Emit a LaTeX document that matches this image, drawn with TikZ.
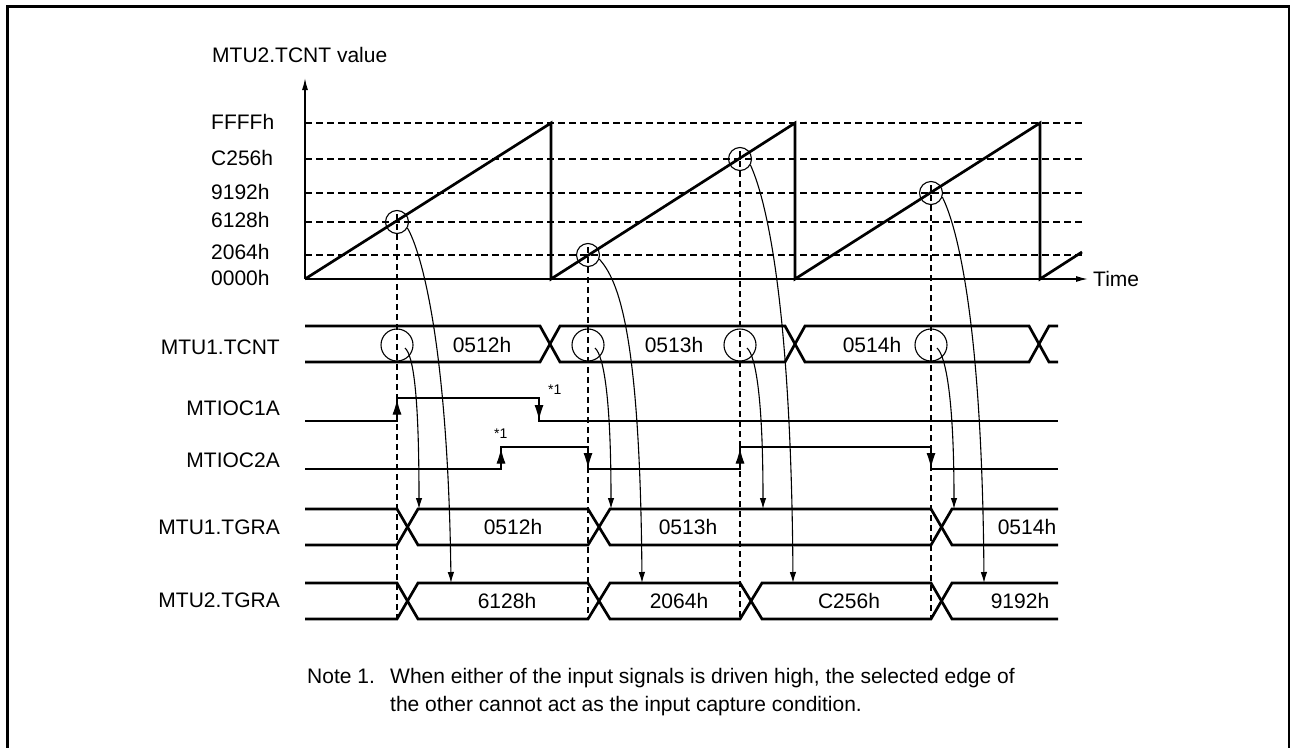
\documentclass[tikz,border=0pt]{standalone}
\usepackage{fontspec}
\setmainfont{Liberation Sans}
\usetikzlibrary{arrows.meta}
\begin{document}
\begin{tikzpicture}[x=1pt,y=-1pt,
  txt/.style={inner sep=0pt, font=\fontsize{21}{25}\selectfont},
  smalltxt/.style={inner sep=0pt, font=\fontsize{14}{16}\selectfont},
  sig/.style={line width=2.7pt, line join=miter},
  axisline/.style={line width=1.4pt, -{Latex[length=12pt,width=6pt]}},
  gridline/.style={line width=1.2pt, dash pattern=on 7pt off 4pt},
  vdash/.style={line width=1.1pt, dash pattern=on 6pt off 4pt},
  ramp/.style={line width=2.7pt, line join=miter},
  capcurve/.style={line width=1.1pt, -{Latex[length=11pt,width=6.5pt]}},
  edgearr/.style={line width=1pt, -{Latex[length=15pt,width=9pt]}},
  bigc/.style={circle, draw, line width=1.1pt, minimum size=32pt, inner sep=0pt},
  smallc/.style={circle, draw, line width=1.1pt, minimum size=23pt, inner sep=0pt},
]
\useasboundingbox (0,0) rectangle (1290,747);
% frame
\draw[line width=3pt] (7.5,760) -- (7.5,6.5) -- (1289.5,6.5) -- (1289.5,760);

% ---------- counter graph ----------
\node[txt, anchor=base west] (ylab) at (212,62.5) {MTU2.TCNT value};
\node[txt, anchor=base west] (lFFFF) at (211,129.5) {FFFFh};
\node[txt, anchor=base west] (lC256) at (211,165.5) {C256h};
\node[txt, anchor=base west] (l9192) at (211,199.5) {9192h};
\node[txt, anchor=base west] (l6128) at (211,227.5) {6128h};
\node[txt, anchor=base west] (l2064) at (211,259.5) {2064h};
\node[txt, anchor=base west] (l0000) at (211,285.5) {0000h};
\node[txt, anchor=base west] (tlab) at (1093,286.5) {Time};

\foreach \yy in {123,159,193,222,255}
  \draw[gridline] (305,\yy) -- (1083,\yy);

\coordinate (O) at (305,279);
\coordinate (ytop) at (305,78);
\coordinate (xend) at (1088,279);
\draw[axisline] (O) -- (ytop);
\draw[axisline] (O) -- (xend);

\draw[ramp] (305,279) -- (551,123) -- (551,279) -- (795,123) -- (795,279)
  -- (1040,123) -- (1040,279) -- (1082,252);

% capture points on ramp
\node[smallc] (r1) at (397,222) {};
\node[smallc] (r2) at (588,255) {};
\node[smallc] (r3) at (740,159) {};
\node[smallc] (r4) at (931,193) {};

% dashed verticals
\draw[vdash] (397,214) -- (397,619);
\draw[vdash] (588,247) -- (588,619);
\draw[vdash] (740,151) -- (740,619);
\draw[vdash] (931,185) -- (931,619);

% ---------- timing rows ----------
\node[txt, anchor=base east] (nTCNT) at (280,354.5) {MTU1.TCNT};
\node[txt, anchor=base east] (nIOC1) at (280,415.5) {MTIOC1A};
\node[txt, anchor=base east] (nIOC2) at (280,467.5) {MTIOC2A};
\node[txt, anchor=base east] (nTG1) at (280,534.5) {MTU1.TGRA};
\node[txt, anchor=base east] (nTG2) at (280,607.5) {MTU2.TGRA};

% MTU1.TCNT bus
\draw[sig] (305,326) -- (540,326) -- (560,362) -- (785,362) -- (805,326) -- (1029,326) -- (1049,362) -- (1058,362);
\draw[sig] (305,362) -- (540,362) -- (560,326) -- (785,326) -- (805,362) -- (1029,362) -- (1049,326) -- (1058,326);
\node[txt, anchor=base] (v0512a) at (482,352.5) {0512h};
\node[txt, anchor=base] (v0513a) at (674,352.5) {0513h};
\node[txt, anchor=base] (v0514a) at (872,352.5) {0514h};

\node[bigc] (t1) at (397,345) {};
\node[bigc] (t2) at (588,345) {};
\node[bigc] (t3) at (740,345) {};
\node[bigc] (t4) at (931,345) {};

% MTIOC1A
\draw[sig] (305,421) -- (397,421) -- (397,398) -- (539,398) -- (539,421) -- (1058,421);
\draw[edgearr] (397,421) -- (397,399.5);
\draw[edgearr] (539,398) -- (539,420);
\node[smalltxt, anchor=base west] (note1a) at (548,394) {*1};

% MTIOC2A
\draw[sig] (305,469) -- (501,469) -- (501,447) -- (588,447) -- (588,469) -- (740,469)
  -- (740,447) -- (931,447) -- (931,469) -- (1058,469);
\draw[edgearr] (501,469) -- (501,448.5);
\draw[edgearr] (588,447) -- (588,468);
\draw[edgearr] (740,469) -- (740,448.5);
\draw[edgearr] (931,447) -- (931,468);
\node[smalltxt, anchor=base west] (note1b) at (494,438) {*1};

% MTU1.TGRA bus
\draw[sig] (305,509) -- (397,509) -- (418,545) -- (588,545) -- (610,509) -- (931,509) -- (952,545) -- (1058,545);
\draw[sig] (305,545) -- (397,545) -- (418,509) -- (588,509) -- (610,545) -- (931,545) -- (952,509) -- (1058,509);
\node[txt, anchor=base] (v0512b) at (513,534.5) {0512h};
\node[txt, anchor=base] (v0513b) at (688,534.5) {0513h};
\node[txt, anchor=base] (v0514b) at (1027,534.5) {0514h};

% MTU2.TGRA bus
\draw[sig] (305,583) -- (397,583) -- (418,619) -- (588,619) -- (610,583) -- (740,583) -- (762,619) -- (931,619) -- (952,583) -- (1058,583);
\draw[sig] (305,619) -- (397,619) -- (418,583) -- (588,583) -- (610,619) -- (740,619) -- (762,583) -- (931,583) -- (952,619) -- (1058,619);
\node[txt, anchor=base] (v6128) at (507,608.5) {6128h};
\node[txt, anchor=base] (v2064) at (679,608.5) {2064h};
\node[txt, anchor=base] (vC256) at (849,608.5) {C256h};
\node[txt, anchor=base] (v9192) at (1020,608.5) {9192h};

% capture arrows: counter value -> MTU2.TGRA
\coordinate (e1) at (451,583);
\coordinate (e2) at (642,583);
\coordinate (e3) at (793,583);
\coordinate (e4) at (984,583);
\draw[capcurve] (r1.-30) .. controls (422,253) and (448,348) .. (e1);
\draw[capcurve] (r2.-20) .. controls (618,280) and (640,330) .. (e2);
\draw[capcurve] (r3.-30) .. controls (762,190) and (791,280) .. (e3);
\draw[capcurve] (r4.-20) .. controls (955,222) and (982,310) .. (e4);

% capture arrows: MTU1.TCNT -> MTU1.TGRA
\coordinate (s1) at (405,348);
\coordinate (s2) at (595,348);
\coordinate (s3) at (747,348);
\coordinate (s4) at (937,348);
\coordinate (f1) at (419,509);
\coordinate (f2) at (611,509);
\coordinate (f3) at (763,509);
\coordinate (f4) at (954,509);
\draw[capcurve] (s1) .. controls (414,356) and (419,400) .. (f1);
\draw[capcurve] (s2) .. controls (604,356) and (611,400) .. (f2);
\draw[capcurve] (s3) .. controls (756,356) and (763,400) .. (f3);
\draw[capcurve] (s4) .. controls (946,356) and (954,400) .. (f4);

% note
\node[txt, anchor=base west] (noteh) at (307,683.5) {Note 1.};
\node[txt, anchor=base west] (notel1) at (390,683.5) {When either of the input signals is driven high, the selected edge of};
\node[txt, anchor=base west] (notel2) at (390,711.5) {the other cannot act as the input capture condition.};
\end{tikzpicture}
\end{document}
